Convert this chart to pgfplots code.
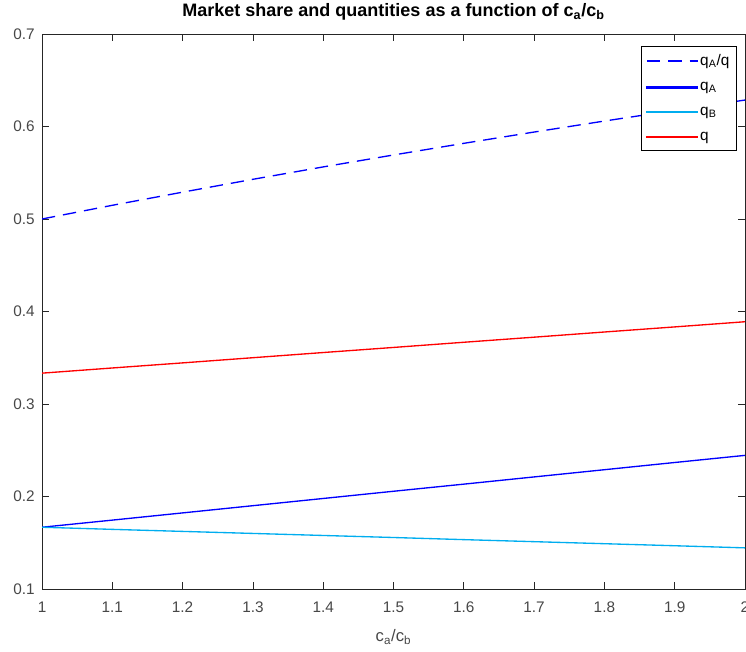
\documentclass[border=0pt]{standalone}
\usepackage{pgfplots}
\pgfplotsset{compat=1.18}
\usepackage{fontspec}
\setmainfont{Liberation Sans}
\definecolor{axgray}{RGB}{38,38,38}
\begin{document}
\begin{tikzpicture}
\begin{axis}[
  scale only axis,
  width=527pt, height=416pt,
  xmin=1, xmax=2, ymin=0.1, ymax=0.7,
  xtick={1,1.1,...,2.01},
  ytick={0.1,0.2,...,0.71},
  xticklabels={1,1.1,1.2,1.3,1.4,1.5,1.6,1.7,1.8,1.9,2},
  yticklabels={0.1,0.2,0.3,0.4,0.5,0.6,0.7},
  tick align=inside,
  major tick length=5pt,
  axis line style={axgray, line width=0.6pt},
  every tick/.style={axgray, line width=0.6pt},
  tick label style={font=\fontsize{11.5}{13}\selectfont, text=axgray!85},
  xticklabel style={yshift=-6pt},
  yticklabel style={xshift=-2pt},
  /pgf/number format/assume math mode=true,
  title={\textbf{Market share and quantities as a function of c\textsubscript{a}/c\textsubscript{b}}},
  title style={font=\fontsize{13.5}{15}\selectfont, yshift=1pt},
  xlabel={c\textsubscript{a}/c\textsubscript{b}},
  xlabel style={font=\fontsize{12.5}{14}\selectfont, text=axgray!85, yshift=-6pt},
  legend cell align=left,
  legend style={at={(1,1)}, anchor=north east, xshift=-6pt, yshift=-9pt,
    font=\fontsize{11.5}{13}\selectfont,
    row sep=7pt, inner xsep=4pt, inner ysep=4pt,
    nodes={inner xsep=1.5pt}},
]
\addplot[color=blue, line width=1pt, dash pattern=on 10pt off 6pt,
  legend image code/.code={\draw[blue, line width=1pt, dash pattern=on 10pt off 6pt] (0pt,0pt) -- (38pt,0pt);}] coordinates {
(1.0,0.5000) (1.1,0.5148) (1.2,0.5290) (1.3,0.5429) (1.4,0.5563) (1.5,0.5692)
(1.6,0.5818) (1.7,0.5940) (1.8,0.6059) (1.9,0.6174) (2.0,0.6286)};
\addlegendentry{q\textsubscript{A}/q}
\addplot[color=blue, line width=1pt, solid,
  legend image code/.code={\fill[blue] (0pt,-0.5pt) rectangle (38pt,0.5pt);}] coordinates {
(1.0,0.1667) (1.1,0.1744) (1.2,0.1822) (1.3,0.1900) (1.4,0.1978) (1.5,0.2056)
(1.6,0.2133) (1.7,0.2211) (1.8,0.2289) (1.9,0.2367) (2.0,0.2444)};
\addlegendentry{q\textsubscript{A}}
\addplot[color=cyan, line width=1pt, solid,
  legend image code/.code={\fill[cyan] (0pt,-0.5pt) rectangle (38pt,0.5pt);}] coordinates {
(1.0,0.1667) (1.1,0.1644) (1.2,0.1622) (1.3,0.1600) (1.4,0.1578) (1.5,0.1556)
(1.6,0.1533) (1.7,0.1511) (1.8,0.1489) (1.9,0.1467) (2.0,0.1444)};
\addlegendentry{q\textsubscript{B}}
\addplot[color=red, line width=1pt, solid,
  legend image code/.code={\fill[red] (0pt,-0.5pt) rectangle (38pt,0.5pt);}] coordinates {
(1.0,0.3333) (1.1,0.3389) (1.2,0.3444) (1.3,0.3500) (1.4,0.3556) (1.5,0.3611)
(1.6,0.3667) (1.7,0.3722) (1.8,0.3778) (1.9,0.3833) (2.0,0.3889)};
\addlegendentry{q}
\end{axis}
\pgfresetboundingbox
\path ([shift={(-31.5pt,-47.25pt)}]current axis.south west) rectangle ([shift={(0.75pt,25.5pt)}]current axis.north east);
\end{tikzpicture}
\end{document}
